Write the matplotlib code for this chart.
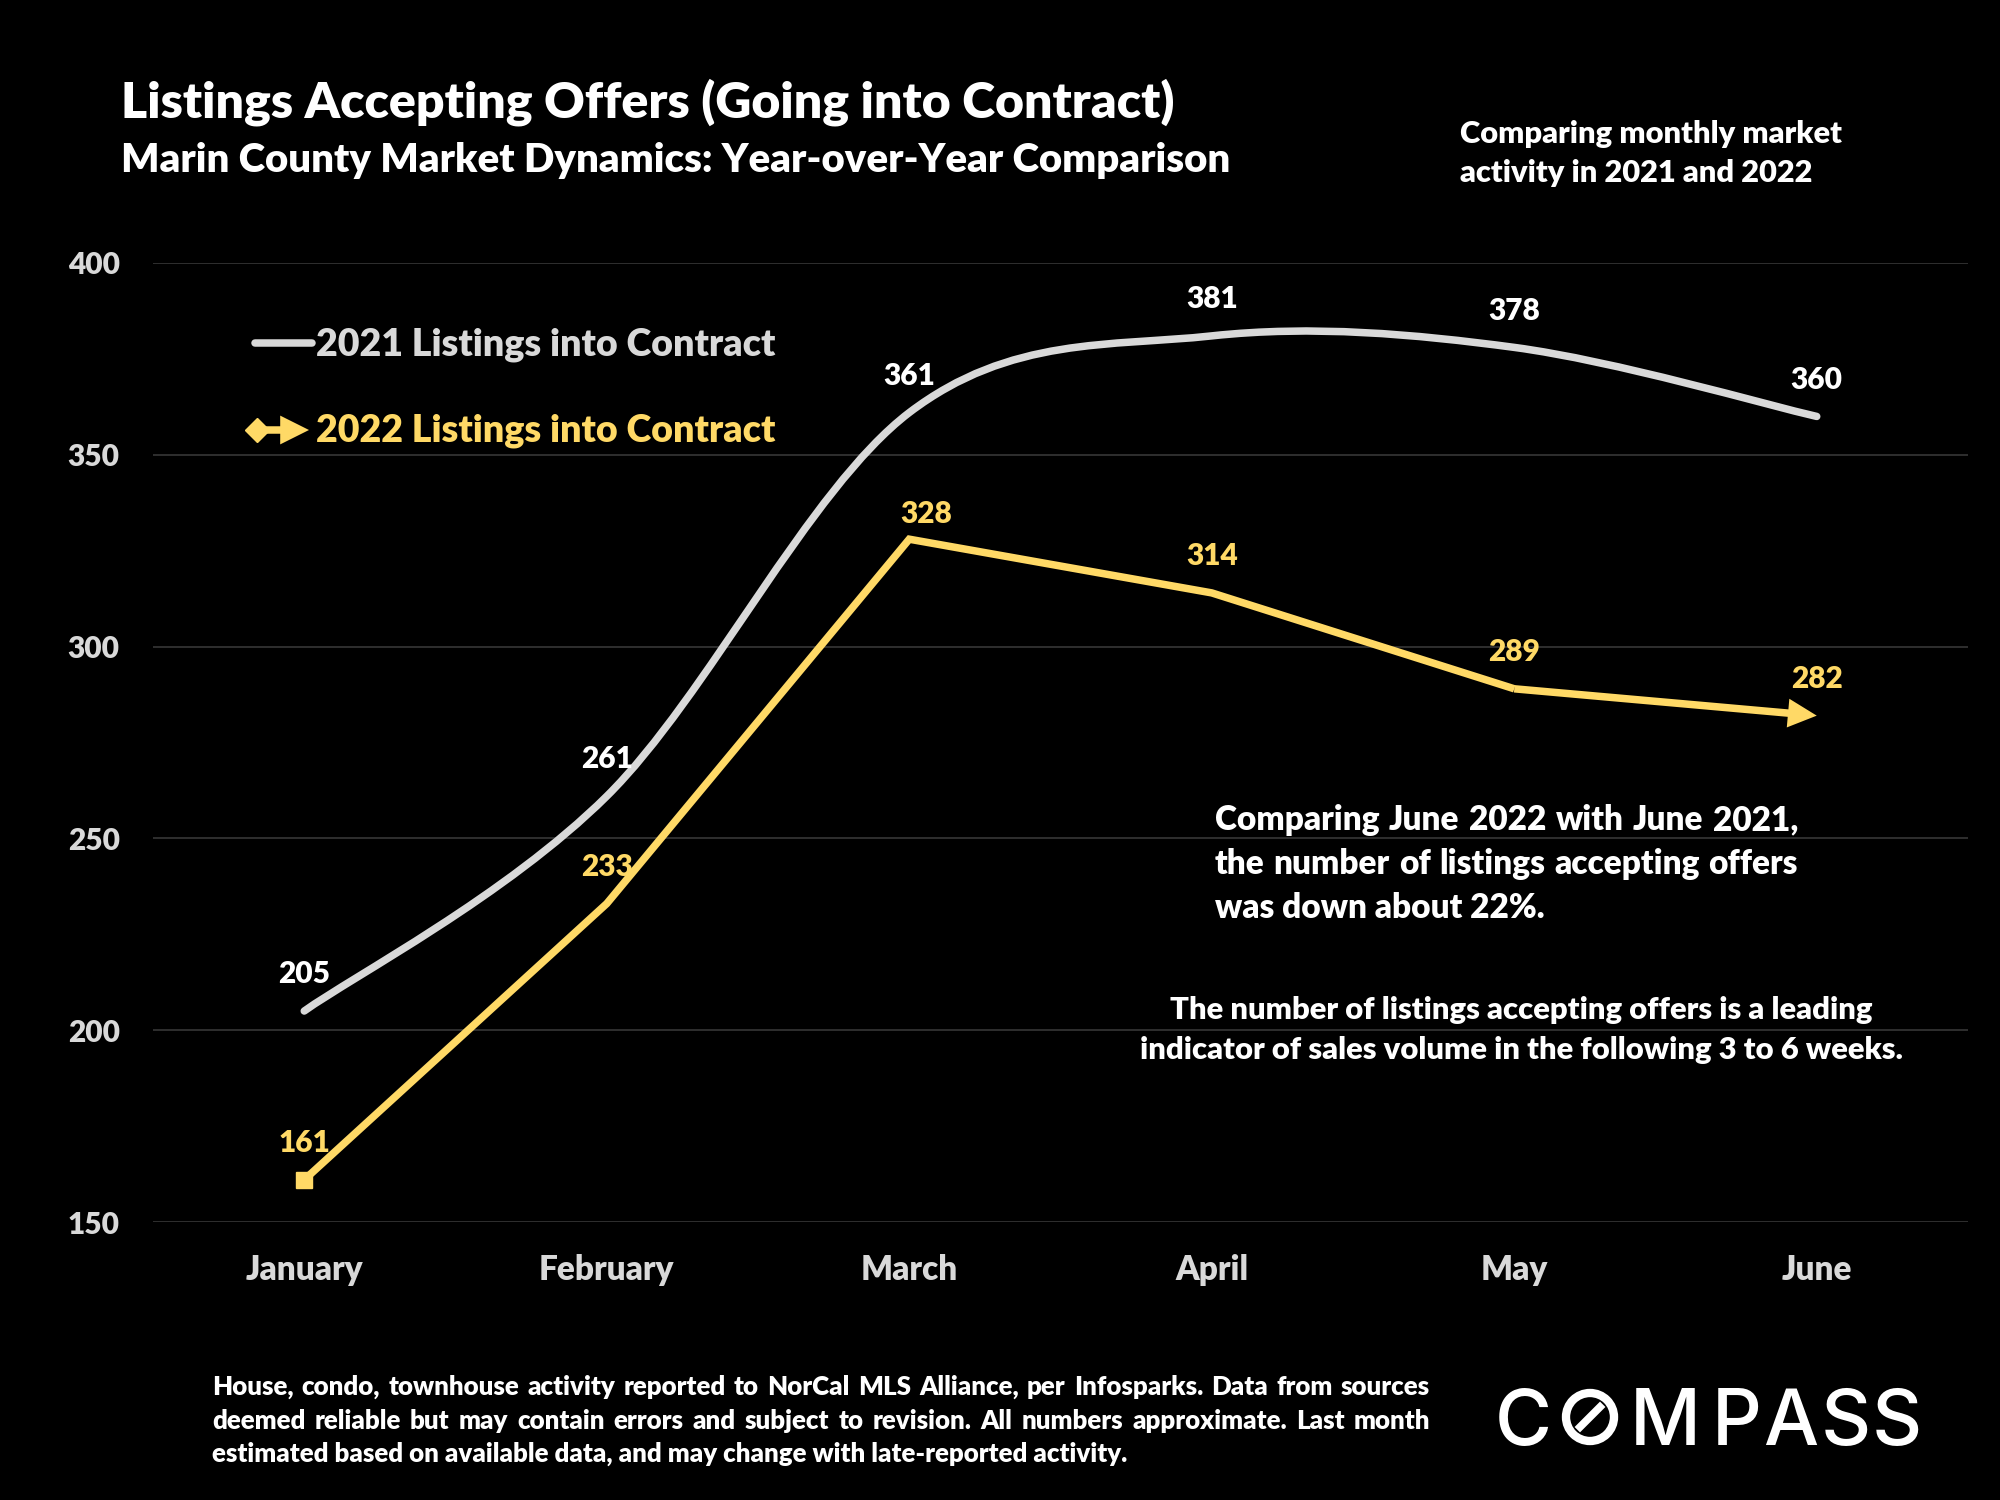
import matplotlib
matplotlib.use('Agg')
import matplotlib.pyplot as plt
from matplotlib.lines import Line2D
from matplotlib.patches import Circle, PathPatch
from matplotlib.path import Path

months = ['January', 'February', 'March', 'April', 'May', 'June']
listings_2021 = [205, 261, 361, 381, 378, 360]
listings_2022 = [161, 233, 328, 314, 289, 282]
y_ticks = [150, 200, 250, 300, 350, 400]

footnote = [
    'House, condo, townhouse activity reported to NorCal MLS Alliance, per Infosparks. Data from sources',
    'deemed reliable but may contain errors and subject to revision. All numbers approximate. Last month',
]
footnote_last = 'estimated based on available data, and may change with late-reported activity.'
comparing = [
    'Comparing June 2022 with June 2021,',
    'the number of listings accepting offers',
]

GRAY = '#D9D9D9'
YELLOW = '#FFD966'
W, H = 2000, 1500
ARROW = dict(arrowstyle='-|>,head_length=12,head_width=6', mutation_scale=1, color=YELLOW, lw=5.4,
             shrinkA=0, shrinkB=0, joinstyle='miter', capstyle='butt')

plt.rcParams['font.family'] = ['Lato', 'DejaVu Sans']
plt.rcParams['font.weight'] = 'heavy'

fig = plt.figure(figsize=(20, 15), dpi=100, facecolor='black')
ax = fig.add_axes([153 / W, 1 - 1222 / H, 1815 / W, 959 / H], facecolor='black')


def px_text(x, y, s, size, color='white', **kw):
    # positions are pixels from the top left of the figure
    return fig.text(x / W, 1 - y / H, s, fontsize=size, color=color, **kw)


def justified(x0, x1, y, line, size):
    # spread the words of one line between x0 and x1
    words = line.split(' ')
    renderer = fig.canvas.get_renderer()
    widths = []
    for w in words:
        t = px_text(0, 0, w, size)
        widths.append(t.get_window_extent(renderer).width)
        t.remove()
    gap = (x1 - x0 - sum(widths)) / (len(words) - 1)
    x = x0
    for w, wd in zip(words, widths):
        px_text(x, y, w, size)
        x += wd + gap


def smooth_path(xs, ys):
    # same bezier smoothing a spreadsheet uses for a smoothed line
    verts = [(xs[0], ys[0])]
    codes = [Path.MOVETO]
    n = len(xs)
    for i in range(n - 1):
        a = max(i - 1, 0)
        b = min(i + 2, n - 1)
        verts.append((xs[i] + (xs[i + 1] - xs[a]) / 6, ys[i] + (ys[i + 1] - ys[a]) / 6))
        verts.append((xs[i + 1] - (xs[b] - xs[i]) / 6, ys[i + 1] - (ys[b] - ys[i]) / 6))
        verts.append((xs[i + 1], ys[i + 1]))
        codes += [Path.CURVE4] * 3
    return Path(verts, codes)


x = list(range(len(months)))
ax.set_xlim(-0.5, 5.5)
ax.set_ylim(150, 400)
ax.set_xticks(x, months)
ax.set_yticks(y_ticks)
ax.grid(axis='y', color='#3C3C3C', lw=1.1)
ax.set_axisbelow(True)
for s in ax.spines.values():
    s.set_visible(False)
ax.tick_params(length=0, labelcolor=GRAY)
ax.tick_params(axis='x', pad=23, labelsize=24)
ax.tick_params(axis='y', pad=24, labelsize=21.5)

ax.add_patch(PathPatch(smooth_path(x, listings_2021), fc='none', ec=GRAY, lw=5.4, capstyle='round'))
ax.plot(x[:-1], listings_2022[:-1], color=YELLOW, lw=5.4, solid_joinstyle='miter', solid_capstyle='butt')
ax.plot(x[0], listings_2022[0], 's', color=YELLOW, ms=12)
# last segment carries the arrow head
ax.annotate('', xy=(x[-1], listings_2022[-1]), xytext=(x[-2], listings_2022[-2]), arrowprops=ARROW)

for i in x:
    ax.annotate(str(listings_2021[i]), (i, listings_2021[i]), xytext=(0, 20), textcoords='offset points',
                ha='center', color='white', fontsize=21.5)
    # the March 2022 label sits off to the right, close to the peak
    offset = (12, 12) if months[i] == 'March' else (0, 20)
    ax.annotate(str(listings_2022[i]), (i, listings_2022[i]), xytext=offset, textcoords='offset points',
                ha='center', color=YELLOW, fontsize=21.5)

# titles and notes
px_text(121, 117, 'Listings Accepting Offers (Going into Contract)', 36)
px_text(121, 172, 'Marin County Market Dynamics: Year-over-Year Comparison', 28.9)
px_text(1460, 143, 'Comparing monthly market', 22.2)
px_text(1460, 182, 'activity in 2021 and 2022', 22.2)

# legend
fig.add_artist(Line2D([255 / W, 312 / W], [1 - 343 / H] * 2, color=GRAY, lw=5.4, solid_capstyle='round'))
fig.add_artist(Line2D([257 / W], [1 - 430 / H], marker='D', color=YELLOW, ms=12))
ax.annotate('', xy=(309 / W, 1 - 430 / H), xytext=(257 / W, 1 - 430 / H), xycoords='figure fraction',
            textcoords='figure fraction', arrowprops=ARROW, annotation_clip=False)
px_text(316, 355, '2021 Listings into Contract', 27.1, color=GRAY)
px_text(316, 441, '2022 Listings into Contract', 27.1, color=YELLOW)

# commentary
fig.canvas.draw()
justified(1215, 1798, 830, comparing[0], 24)
justified(1215, 1798, 874, comparing[1], 24)
px_text(1215, 918, 'was down about 22%.', 24)
px_text(1521, 1019, 'The number of listings accepting offers is a leading', 22.3, ha='center')
px_text(1521, 1059, 'indicator of sales volume in the following 3 to 6 weeks.', 22.3, ha='center')

justified(212, 1430, 1395, footnote[0], 18.6)
justified(212, 1430, 1429, footnote[1], 18.6)
px_text(212, 1462, footnote_last, 18.6)

# logo
logo_letters = ['C', 'M', 'P', 'A', 'S', 'S']
logo_x = [1523, 1665, 1737, 1791, 1846, 1897]
for letter, lx in zip(logo_letters, logo_x):
    px_text(lx, 1445, letter, 56, fontfamily='Inter', fontweight='medium', ha='center')
fig.add_artist(Circle((1590 / W * 20, 15 - 1417 / H * 15), 24 / 100, fc='none', ec='white', lw=6,
                      transform=fig.dpi_scale_trans))
fig.add_artist(Line2D([1580 / W, 1600 / W], [1 - 1427 / H, 1 - 1407 / H], color='white', lw=5.5))

fig.savefig('out.png', dpi=100, facecolor='black')
